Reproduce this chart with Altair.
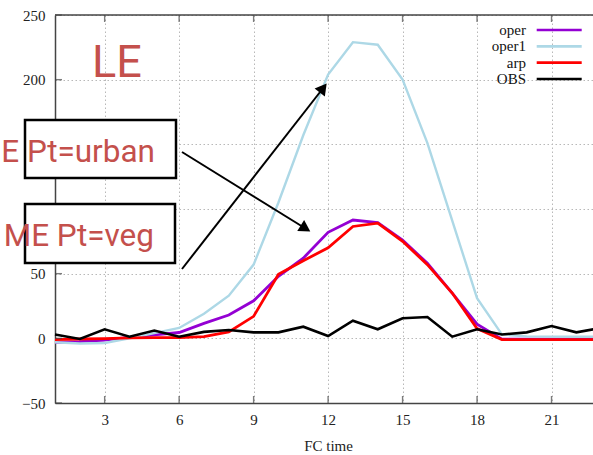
import altair as alt
import pandas as pd

# ---- data ----
hours = list(range(1, 24))
oper = [-3.2, -2.6, -1.3, 0.8, 2.6, 4.5, 11.6, 18, 29, 48, 62, 82, 91.5, 89.5, 76, 58, 35, 11, -0.6, -0.6, -0.6, -0.6, -0.6]
oper1 = [-3, -4, -3.6, 0, 4, 8, 19, 33, 57, 105, 157, 204, 229, 227, 200, 151, 91, 31, 3, 1.5, 1.3, 1.2, 1.2]
arp = [-1, -0.5, -0.3, 0.3, 0.5, 0.5, 1.3, 5, 17, 49.5, 60, 70, 86.5, 89, 75, 57, 35, 7.5, -1, -1, -1, -1, -1]
obs = [3, -0.5, 7, 1.3, 6, 1.3, 5, 6.4, 4.6, 4.6, 9, 1.8, 13.6, 7, 15.5, 16.5, 1.3, 7, 3, 4.6, 9.5, 4.6, 8]

series_names = ["oper", "oper1", "arp", "OBS"]
series_colors = ["#9400d3", "#add8e6", "#ff0000", "#000000"]
series_widths = [2.8, 2.4, 2.8, 2.6]
x_ticks = [3, 6, 9, 12, 15, 18, 21]
y_ticks = [-50, 0, 50, 100, 150, 200, 250]
x_domain = [1, 22.67]
y_domain = [-50, 250]

frames = []
for name, vals in zip(series_names, [oper, oper1, arp, obs]):
    frames.append(pd.DataFrame({"hour": hours, "value": vals, "series": name}))

xscale = alt.Scale(domain=x_domain, nice=False, zero=False)
yscale = alt.Scale(domain=y_domain, nice=False, zero=False)
cscale = alt.Scale(domain=series_names, range=series_colors)

AX_COLOR = "#444444"
common_axis = dict(
    grid=True, gridDash=[1.5, 2.5], gridColor="#b8b8b8", gridWidth=1,
    tickSize=0, domainColor=AX_COLOR, domainWidth=1.5,
    labelFont="Liberation Serif", labelFontSize=15, labelColor="#222222",
)
xaxis = alt.Axis(values=x_ticks, title="FC time", labelPadding=9,
                 titleFont="Liberation Serif", titleFontSize=15, titleFontWeight="normal",
                 titleColor="#222222", titleX=273, titleY=42, titleAlign="center",
                 titleBaseline="middle", titleAnchor="start", **common_axis)
yaxis = alt.Axis(values=y_ticks, title=None, labelPadding=10, **common_axis)

layers = []
for name, df, w in zip(series_names, frames, series_widths):
    layers.append(
        alt.Chart(df).mark_line(strokeWidth=w).encode(
            x=alt.X("hour:Q", scale=xscale, axis=xaxis),
            y=alt.Y("value:Q", scale=yscale, axis=yaxis),
            color=alt.Color("series:N", scale=cscale, legend=None),
        )
    )

# inward ticks (gnuplot style) and top border
xt = pd.DataFrame({"t": x_ticks})
yt = pd.DataFrame({"t": y_ticks})
layers.append(alt.Chart(xt).mark_tick(orient="vertical", size=7, thickness=1.4, color=AX_COLOR, yOffset=-3.5).encode(
    x=alt.X("t:Q", scale=xscale, axis=xaxis), y=alt.YDatum(y_domain[0], scale=yscale, axis=yaxis)))
layers.append(alt.Chart(xt).mark_tick(orient="vertical", size=7, thickness=1.4, color=AX_COLOR, yOffset=3.5).encode(
    x=alt.X("t:Q", scale=xscale, axis=xaxis), y=alt.YDatum(y_domain[1], scale=yscale, axis=yaxis)))
layers.append(alt.Chart(yt).mark_tick(orient="horizontal", size=7, thickness=1.4, color=AX_COLOR, xOffset=3.5).encode(
    y=alt.Y("t:Q", scale=yscale, axis=yaxis), x=alt.XDatum(x_domain[0], scale=xscale, axis=xaxis)))
layers.append(alt.Chart(pd.DataFrame({"t": [y_domain[1]]})).mark_rule(color=AX_COLOR, strokeWidth=1.5).encode(
    y=alt.Y("t:Q", scale=yscale, axis=yaxis)))

# gnuplot-style key (labels left of line samples), top right
for i, (name, col) in enumerate(zip(series_names, series_colors)):
    ry = 15 + i * 16.33
    layers.append(alt.Chart(pd.DataFrame({"label": [name]})).mark_text(
        font="Liberation Serif", fontSize=15, color="#111111", align="right", baseline="middle").encode(
        text="label:N", x=alt.value(471), y=alt.value(ry)))
    layers.append(alt.Chart(pd.DataFrame({"label": [name]})).mark_rule(color=col, strokeWidth=2.6).encode(
        x=alt.value(481.7), x2=alt.value(526.7), y=alt.value(ry)))

# annotations
ANN_RED = "#c4504c"
ANN_FONT = "Roboto, sans-serif"
one = pd.DataFrame({"k": [0]})

layers.append(alt.Chart(pd.DataFrame({"label": ["LE"]})).mark_text(
    font=ANN_FONT, fontSize=45, color=ANN_RED, align="left", baseline="alphabetic").encode(
    text="label:N", x=alt.value(37), y=alt.value(62)))

for (x2, y1, y2, txt, tx, ty) in [(121, 105, 163, "E Pt=urban", 100, 147),
                                  (120, 189, 248, "ME Pt=veg", 99, 231)]:
    layers.append(alt.Chart(one).mark_rect(fill="white", stroke="black", strokeWidth=2.5).encode(
        x=alt.value(-30), x2=alt.value(x2), y=alt.value(y1), y2=alt.value(y2)))
    layers.append(alt.Chart(pd.DataFrame({"label": [txt]})).mark_text(
        font=ANN_FONT, fontSize=31.5, color=ANN_RED, align="right", baseline="alphabetic").encode(
        text="label:N", x=alt.value(tx), y=alt.value(ty)))

# arrows
for (sx, sy, cx, cy, ang) in [(127, 254, 268.2, 73, 38), (127, 137, 250.5, 213.5, 121.9)]:
    layers.append(alt.Chart(one).mark_rule(color="black", strokeWidth=2).encode(
        x=alt.value(sx), y=alt.value(sy), x2=alt.value(cx), y2=alt.value(cy)))
    layers.append(alt.Chart(one).mark_point(shape="triangle-up", filled=True, color="black",
                                             size=169, opacity=1, angle=ang).encode(
        x=alt.value(cx), y=alt.value(cy)))

chart = alt.layer(*layers).properties(
    width=538, height=388,
    autosize=alt.AutoSizeParams(type="none"),
    padding={"left": 55, "top": 15, "right": 0, "bottom": 52},
    background="white",
).configure_view(stroke=None)

chart.save("out.html", embed_options={"renderer": "svg", "actions": False})
